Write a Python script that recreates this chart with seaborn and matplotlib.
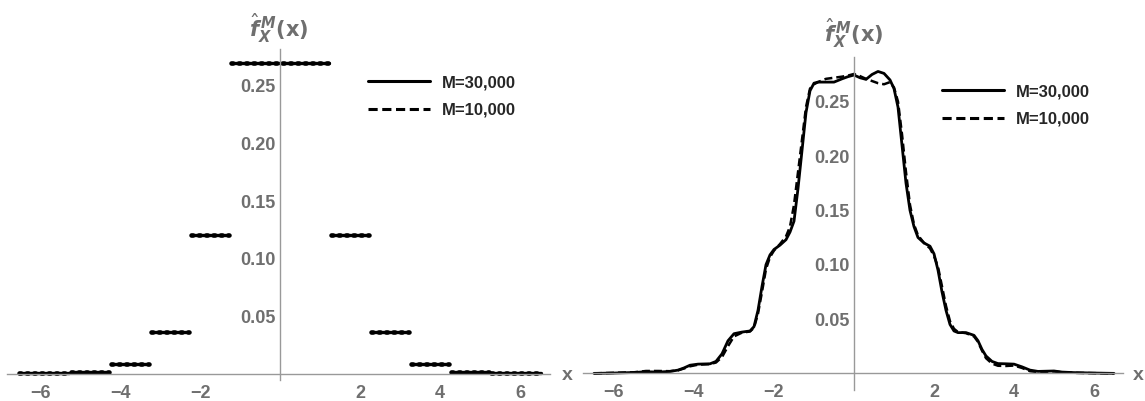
import numpy as np
import pandas as pd
import matplotlib
matplotlib.use("Agg")
import matplotlib.pyplot as plt
import seaborn as sns
from matplotlib.ticker import FixedLocator, MultipleLocator, FormatStrFormatter
from matplotlib.lines import Line2D

# ---------------- data ----------------
# left panel: piecewise-constant estimator (bin edges and heights)
bin_edges = [-6.55, -5.25, -4.25, -3.25, -2.25, -1.25, 1.25, 2.25, 3.25, 4.25, 5.25, 6.55]
bin_heights = [0.0005, 0.002, 0.0085, 0.0365, 0.1205, 0.2695,
               0.1205, 0.0365, 0.0085, 0.002, 0.0005]

# right panel: smoothed estimators
x_grid = [-6.5, -6.0, -5.5, -5.2, -4.9, -4.6, -4.4, -4.25, -4.1, -3.9, -3.6, -3.45,
          -3.3, -3.15, -3.0, -2.8, -2.6, -2.5, -2.4, -2.3, -2.2, -2.1, -2.0, -1.85,
          -1.7, -1.6, -1.5, -1.4, -1.3, -1.2, -1.1, -1.0, -0.9, -0.7, -0.5, -0.3,
          -0.15, 0.0, 0.15, 0.3, 0.45, 0.6, 0.75, 0.9, 1.0, 1.1, 1.2, 1.3, 1.4, 1.5,
          1.6, 1.75, 1.9, 2.0, 2.1, 2.2, 2.3, 2.4, 2.5, 2.6, 2.8, 3.0, 3.1, 3.2, 3.3,
          3.45, 3.6, 3.8, 4.0, 4.2, 4.4, 4.6, 4.8, 5.0, 5.2, 5.5, 6.0, 6.5]
y_30k = [0.0, 0.0003, 0.0008, 0.0015, 0.0012, 0.0018, 0.003, 0.005, 0.0075, 0.0085,
         0.0088, 0.011, 0.018, 0.030, 0.0365, 0.038, 0.039, 0.043, 0.058, 0.08, 0.1,
         0.109, 0.114, 0.118, 0.123, 0.13, 0.14, 0.17, 0.205, 0.24, 0.26, 0.267,
         0.268, 0.268, 0.268, 0.271, 0.273, 0.2745, 0.272, 0.2705, 0.275, 0.2778,
         0.276, 0.27, 0.262, 0.245, 0.21, 0.175, 0.15, 0.135, 0.125, 0.12, 0.117,
         0.11, 0.095, 0.075, 0.058, 0.045, 0.039, 0.0375, 0.0375, 0.035, 0.03, 0.022,
         0.016, 0.011, 0.009, 0.0088, 0.0085, 0.006, 0.003, 0.0018, 0.002, 0.0022,
         0.0012, 0.0007, 0.0003, 0.0]
y_10k = [0.0, 0.0005, 0.001, 0.0022, 0.0022, 0.002, 0.0028, 0.0045, 0.0065, 0.008,
         0.0085, 0.010, 0.015, 0.025, 0.034, 0.0375, 0.0385, 0.042, 0.055, 0.075,
         0.096, 0.107, 0.113, 0.119, 0.126, 0.135, 0.155, 0.185, 0.215, 0.245, 0.262,
         0.266, 0.268, 0.271, 0.272, 0.273, 0.274, 0.2755, 0.2735, 0.271, 0.269,
         0.267, 0.266, 0.268, 0.263, 0.25, 0.22, 0.185, 0.155, 0.137, 0.127, 0.12,
         0.115, 0.108, 0.098, 0.08, 0.062, 0.048, 0.041, 0.038, 0.037, 0.034, 0.029,
         0.021, 0.014, 0.009, 0.007, 0.0068, 0.0072, 0.005, 0.002, 0.0012, 0.0015,
         0.0018, 0.001, 0.0005, 0.0002, 0.0]

legend_labels = ["M=30,000", "M=10,000"]
x_ticks = [-6, -4, -2, 2, 4, 6]
y_ticks = [0.05, 0.10, 0.15, 0.20, 0.25]

# ---------------- style ----------------
sns.set_style("white")
plt.rcParams["font.family"] = ["Liberation Sans", "DejaVu Sans"]
plt.rcParams["mathtext.fontset"] = "dejavusans"

AX_COL = "#999999"
LBL_COL = "#6f6f6f"
W, H = 1145, 401
fig = plt.figure(figsize=(W / 100, H / 100), dpi=100)


def px_axes(x0, x1, ytop, ybot):
    return fig.add_axes([x0 / W, 1 - ybot / H, (x1 - x0) / W, (ybot - ytop) / H])


def style_axes(ax, xlim, ylim):
    ax.set_xlim(*xlim)
    ax.set_ylim(*ylim)
    for s in ["top", "right"]:
        ax.spines[s].set_visible(False)
    ax.spines["left"].set_position(("data", 0))
    ax.spines["bottom"].set_position(("data", 0))
    for s in ["left", "bottom"]:
        ax.spines[s].set_color(AX_COL)
        ax.spines[s].set_linewidth(1.0)
    ax.xaxis.set_major_locator(FixedLocator(x_ticks))
    ax.xaxis.set_minor_locator(MultipleLocator(0.5))
    ax.yaxis.set_major_locator(FixedLocator(y_ticks))
    ax.yaxis.set_minor_locator(MultipleLocator(0.01))
    ax.yaxis.set_major_formatter(FormatStrFormatter("%.2f"))
    ax.tick_params(axis="both", which="both", direction="in", color=AX_COL,
                   labelcolor=LBL_COL, labelsize=13, width=1.0)
    ax.tick_params(axis="both", which="major", length=4.5)
    ax.tick_params(axis="both", which="minor", length=2.5)
    ax.tick_params(axis="x", which="major", pad=8)
    ax.tick_params(axis="y", which="major", pad=3)
    for lab in ax.get_xticklabels() + ax.get_yticklabels():
        lab.set_fontweight("bold")
    ax.set_xlabel("")
    ax.set_ylabel("")
    ax.set_facecolor("none")


# ---------------- left panel ----------------
ax1 = px_axes(6.8, 550, 49, 380)
rows = []
for i, h in enumerate(bin_heights):
    rows.append({"seg": i, "x": bin_edges[i] + 0.03, "y": h})
    rows.append({"seg": i, "x": bin_edges[i + 1] - 0.03, "y": h})
steps = pd.DataFrame(rows)
sns.lineplot(data=steps, x="x", y="y", units="seg", estimator=None, sort=False,
             color="black", lw=2.4, ax=ax1, legend=False)
sns.lineplot(data=steps, x="x", y="y", units="seg", estimator=None, sort=False,
             color="black", lw=3.3, linestyle=(0, (0.4, 1.2)),
             dash_capstyle="round", ax=ax1, legend=False)
style_axes(ax1, (-6.83, 6.75), (-0.0052, 0.282))

# ---------------- right panel ----------------
ax2 = px_axes(583.2, 1123.2, 57.1, 390)
curves = pd.DataFrame({"x": x_grid + x_grid,
                       "y": y_30k + y_10k,
                       "M": [legend_labels[0]] * len(x_grid) + [legend_labels[1]] * len(x_grid)})
sns.lineplot(data=curves[curves.M == legend_labels[0]], x="x", y="y", sort=False,
             color="black", lw=2.0, ax=ax2, legend=False)
sns.lineplot(data=curves[curves.M == legend_labels[1]], x="x", y="y", sort=False,
             color="black", lw=1.8, linestyle=(0, (3.2, 1.6)), ax=ax2, legend=False)
style_axes(ax2, (-6.77, 6.73), (-0.0153, 0.291))

# ---------------- legends ----------------
handles = [Line2D([], [], color="black", lw=2.2),
           Line2D([], [], color="black", lw=2.2, linestyle=(0, (3.0, 1.5)))]
for (lx, ly) in [(368, 96.5), (942, 105.5)]:
    leg = fig.legend(handles, legend_labels, loc="center left",
                     bbox_to_anchor=(lx / W, 1 - ly / H), frameon=False,
                     borderpad=0, borderaxespad=0, handlelength=3.7,
                     handletextpad=0.75, labelspacing=0.75,
                     prop={"size": 12, "weight": "bold"})

# ---------------- axis labels ----------------
ylab = r"$\hat{\mathbfit{f}}^{\,\mathbfit{M}}_{\mathbfit{X}}\mathbf{(x)}$"
fig.text(279 / W, 1 - 28 / H, ylab, ha="center", va="center", fontsize=15,
         color=LBL_COL)
fig.text(854 / W, 1 - 33 / H, ylab, ha="center", va="center", fontsize=15,
         color=LBL_COL)
fig.text(567 / W, 1 - 376 / H, "x", ha="center", va="center", fontsize=14,
         fontweight="bold", color=LBL_COL)
fig.text(1138 / W, 1 - 375 / H, "x", ha="center", va="center", fontsize=14,
         fontweight="bold", color=LBL_COL)

fig.savefig("out.png", dpi=100)
